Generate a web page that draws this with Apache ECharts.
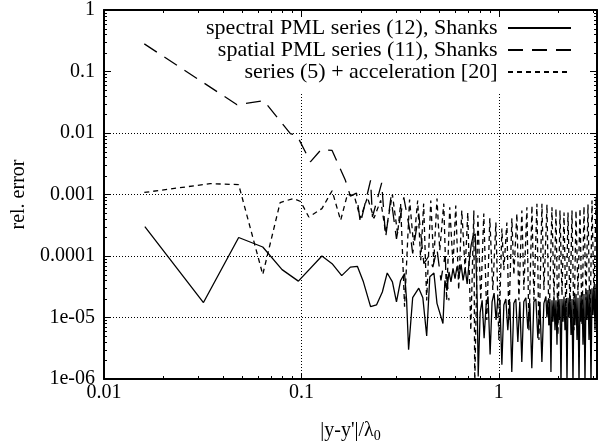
<!DOCTYPE html>
<html>
<head>
<meta charset="utf-8">
<script src="https://cdn.jsdelivr.net/npm/echarts@6/dist/echarts.min.js"></script>
<style>html,body{margin:0;padding:0;background:#fff}#c{width:602px;height:448px}</style>
</head>
<body>
<div id="c"></div>
<script>
const seriesNames = ['spectral PML series (12), Shanks', 'spatial PML series (11), Shanks', 'series (5) + acceleration [20]'];
const xTickLabels = ['0.01', '0.1', '1'];           // exponents -2..0
const yTickLabels = ['1e-06', '1e-05', '0.0001', '0.001', '0.01', '0.1', '1']; // exponents -6..0
const xMin = 0.01, xMax = 3.1416, yMin = 1e-6, yMax = 1;

const spectralData = [[0.0161,3.0e-4],[0.0319,1.75e-5],[0.0481,2.0e-4],[0.0637,1.4e-4],[0.0798,6.0e-5],[0.0965,3.9e-5],[0.127,1.0e-4],[0.143,7.5e-5],[0.160,4.8e-5],[0.177,6.6e-5],[0.192,6.8e-5],[0.206,3.8e-5],[0.224,1.5e-5],[0.240,1.6e-5],[0.257,2.6e-5],[0.272,5.3e-5],[0.289,3.8e-5],[0.303,1.8e-5],[0.318,4.0e-5],[0.333,5.2e-5],[0.341,1.9e-5],[0.349,3.0e-6],[0.366,2.1e-5],[0.393,3.0e-5],[0.412,2.1e-5],[0.431,5.0e-6],[0.447,4.6e-5],[0.469,5.3e-5],[0.486,1.7e-5],[0.497,1.7e-5],[0.521,8.0e-6],[0.533,4.0e-5],[0.546,2.8e-5],[0.559,5.5e-5],[0.572,3.8e-5],[0.586,6.3e-5],[0.600,4.3e-5],[0.614,6.8e-5],[0.629,4.8e-5],[0.644,7.3e-5],[0.659,4.0e-5],[0.675,6.3e-5],[0.691,3.5e-5],[0.707,8.0e-5],[0.724,1.5e-4],[0.741,2.1e-4],[0.759,2.3e-4],[0.777,1.9e-5],[0.786,1.1e-6],[0.804,1.2e-5],[0.823,1.9e-5],[0.842,4.6e-6],[0.862,1.6e-5],[0.882,2.2e-5],[0.903,2.5e-6],[0.924,1.8e-5],[0.946,2.5e-5],[0.968,9.1e-6],[0.988,2.0e-5],[1.012,1.9e-5],[1.036,1.7e-6],[1.060,1.6e-5],[1.085,2.0e-5],[1.110,6.2e-6],[1.137,1.8e-5],[1.163,1.3e-6],[1.191,1.7e-5],[1.219,2.0e-5],[1.248,4.0e-6],[1.277,1.8e-5],[1.307,1.9e-6],[1.338,1.8e-5],[1.370,2.1e-5],[1.402,6.6e-6],[1.436,1.7e-5],[1.469,1.5e-6],[1.504,1.8e-5],[1.540,2.0e-5],[1.576,4.6e-6],[1.614,1.8e-5],[1.652,1.9e-6],[1.691,1.7e-5],[1.731,2.2e-5],[1.751,1.0e-5],[1.772,1.9e-5],[1.794,7.5e-6],[1.815,2.0e-5],[1.836,1.3e-6],[1.858,1.9e-5],[1.880,8.5e-6],[1.902,2.1e-5],[1.925,6.2e-6],[1.947,1.9e-5],[1.970,3.6e-6],[1.993,2.2e-5],[2.017,9.1e-6],[2.040,2.0e-5],[2.064,8e-7],[2.088,2.0e-5],[2.113,8.5e-6],[2.138,2.2e-5],[2.163,6.2e-6],[2.188,2.0e-5],[2.214,9e-7],[2.240,2.1e-5],[2.266,1.0e-5],[2.293,2.3e-5],[2.320,5.2e-6],[2.347,2.0e-5],[2.374,8e-7],[2.402,2.2e-5],[2.430,7.5e-6],[2.459,2.4e-5],[2.488,4.3e-6],[2.517,2.1e-5],[2.547,8e-7],[2.577,2.3e-5],[2.607,8.5e-6],[2.637,2.5e-5],[2.668,3.6e-6],[2.699,2.4e-5],[2.731,8e-7],[2.763,2.6e-5],[2.795,9.1e-6],[2.828,2.8e-5],[2.862,4.3e-6],[2.895,2.8e-5],[2.929,8e-7],[2.964,3.0e-5],[2.999,1.1e-5],[3.034,3.2e-5],[3.070,6.2e-6],[3.106,3.5e-5],[3.142,1.9e-5]];

const spatialData = [[0.0160,0.281],[0.0472,0.0288],[0.0644,0.0335],[0.0879,0.0098],[0.095,0.0091],[0.111,3.4e-3],[0.126,5.4e-3],[0.143,5.2e-3],[0.167,1.7e-3],[0.177,9.4e-4],[0.19,1.05e-3],[0.199,3.4e-4],[0.224,1.7e-3],[0.229,4.3e-4],[0.255,1.55e-3],[0.267,2.0e-4],[0.284,9.0e-4],[0.303,1.9e-4],[0.33,9.0e-4],[0.354,2.6e-4],[0.366,1.1e-4],[0.393,4.9e-4],[0.417,7.5e-5],[0.442,1.0e-4],[0.463,6.6e-5],[0.486,1.3e-4],[0.509,4.0e-5],[0.533,1.0e-4],[0.559,1.9e-5]];

const accelData = [[0.0160,1.08e-3],[0.0345,1.5e-3],[0.0481,1.45e-3],[0.0637,5.0e-5],[0.078,7.4e-4],[0.091,8.6e-4],[0.099,7.7e-4],[0.109,4.3e-4],[0.127,5.9e-4],[0.143,1.15e-3],[0.158,3.8e-4],[0.171,1.0e-3],[0.185,9.6e-4],[0.199,4.1e-4],[0.216,9.0e-4],[0.233,4.1e-4],[0.252,8.0e-4],[0.267,2.4e-4],[0.289,1.0e-3],[0.307,2.3e-4],[0.318,7.1e-4],[0.333,1.5e-5],[0.353,8.3e-4],[0.370,1.5e-4],[0.388,8.0e-4],[0.402,8.5e-5],[0.416,7.1e-4],[0.431,1.9e-5],[0.452,8.0e-4],[0.468,7.9e-5],[0.486,8.6e-4],[0.502,1.24e-4],[0.526,7.1e-4],[0.544,1.9e-5],[0.564,6.2e-4],[0.586,7.1e-5],[0.605,6.6e-4],[0.626,2.8e-5],[0.649,5.5e-4],[0.675,5.9e-5],[0.696,5.1e-4],[0.721,6.2e-6],[0.747,5.5e-4],[0.755,8e-7],[0.783,4.6e-4],[0.810,1.9e-5],[0.839,4.9e-4],[0.869,9.1e-6],[0.900,4.1e-4],[0.932,2.8e-5],[0.966,3.5e-4],[1.0,4.3e-6],[1.036,2.8e-4],[1.060,5.9e-5],[1.098,3.5e-4],[1.124,9.1e-6],[1.164,4.1e-4],[1.191,4.9e-5],[1.234,4.9e-4],[1.263,1.9e-5],[1.308,5.5e-4],[1.339,2.8e-5],[1.387,6.2e-4],[1.420,6.2e-6],[1.471,6.6e-4],[1.505,1.9e-5],[1.559,7.1e-4],[1.596,4.3e-6],[1.653,7.1e-4],[1.692,2.8e-5],[1.753,6.9e-4],[1.794,7.5e-6],[1.858,6.2e-4],[1.902,1.9e-5],[1.947,5.9e-4],[1.993,5.2e-6],[2.040,5.5e-4],[2.088,2.3e-5],[2.138,5.1e-4],[2.188,9.1e-6],[2.240,5.1e-4],[2.293,1.3e-5],[2.347,5.5e-4],[2.402,6.2e-6],[2.459,5.5e-4],[2.517,2.3e-5],[2.577,5.9e-4],[2.637,7.5e-6],[2.699,6.4e-4],[2.763,1.9e-5],[2.828,6.9e-4],[2.895,6.2e-6],[2.964,8.0e-4],[3.034,1.9e-5],[3.106,8.9e-4],[3.142,2.3e-4]];

const FONT = 'Liberation Serif';
function powLabel(labels, offset) {
  return function (v) {
    const e = Math.log10(v), r = Math.round(e);
    if (Math.abs(e - r) > 1e-6) return '';
    return labels[r + offset] || '';
  };
}
const axisLineStyle = { show: true, onZero: false, lineStyle: { color: '#000', width: 2 } };
const tickStyle = { show: true, inside: true, length: 6, lineStyle: { color: '#000', width: 1 } };
const gridLine = { show: true, lineStyle: { color: '#000', width: 1, type: [1, 2] } };
const noSym = { color: 'rgba(0,0,0,0)', borderWidth: 0, opacity: 0 };

const chart = echarts.init(document.getElementById('c'), null, { renderer: 'canvas' });
const option = {
  animation: false,
  backgroundColor: '#fff',
  textStyle: { fontFamily: FONT },
  grid: { left: 104, right: 5, top: 8, bottom: 69, containLabel: false },
  legend: {
    orient: 'vertical', right: 30, top: 17, align: 'right',
    itemWidth: 63, itemHeight: 10, itemGap: 0, padding: 0,
    selectedMode: false,
    data: seriesNames,
    itemStyle: noSym,
    formatter: function (n) { return n + ' '; },
    textStyle: { fontFamily: FONT, fontSize: 22, color: '#000', lineHeight: 22 }
  },
  xAxis: [{
    type: 'log', logBase: 10, min: xMin, max: xMax, position: 'bottom',
    axisLine: axisLineStyle, axisTick: tickStyle, splitLine: gridLine,
    axisLabel: { formatter: powLabel(xTickLabels, 2), fontFamily: FONT, fontSize: 20, color: '#000', margin: 4 },
    name: "|y-y'|/λ{s|0}", nameLocation: 'middle', nameGap: 40,
    nameTextStyle: { fontFamily: FONT, fontSize: 20, color: '#000', rich: { s: { fontFamily: FONT, fontSize: 14, color: '#000', padding: [10, 0, 0, 0] } } }
  }, {
    type: 'log', logBase: 10, min: xMin, max: xMax, position: 'top',
    axisLine: axisLineStyle, axisTick: tickStyle, splitLine: { show: false }, axisLabel: { show: false }
  }],
  yAxis: [{
    type: 'log', logBase: 10, min: yMin, max: yMax, position: 'left',
    axisLine: axisLineStyle, axisTick: tickStyle, splitLine: gridLine,
    axisLabel: { formatter: powLabel(yTickLabels, 6), fontFamily: FONT, fontSize: 20, color: '#000', margin: 9 },
    name: 'rel. error', nameLocation: 'middle', nameGap: 72,
    nameTextStyle: { fontFamily: FONT, fontSize: 20, color: '#000' }
  }, {
    type: 'log', logBase: 10, min: yMin, max: yMax, position: 'right',
    axisLine: axisLineStyle, axisTick: tickStyle, splitLine: { show: false }, axisLabel: { show: false }
  }],
  series: [
    { type: 'line', name: seriesNames[0], data: spectralData, symbol: 'none', clip: true, z: 3, itemStyle: noSym,
      lineStyle: { color: '#000', width: 1.3, type: 'solid' } },
    { type: 'line', name: seriesNames[1], data: spatialData, symbol: 'none', clip: true, z: 3, itemStyle: noSym,
      lineStyle: { color: '#000', width: 1.3, type: [15, 9] } },
    { type: 'line', name: seriesNames[2], data: accelData, symbol: 'none', clip: true, z: 3, itemStyle: noSym,
      lineStyle: { color: '#000', width: 1.3, type: [5, 4] } }
  ]
};
chart.setOption(option);

// minor ticks (2..9 per decade) on all four sides, placed through the axes' own scales
const g = [];
const yB = chart.convertToPixel({ yAxisIndex: 0 }, yMin);
const yT = chart.convertToPixel({ yAxisIndex: 0 }, yMax);
const xL = chart.convertToPixel({ xAxisIndex: 0 }, xMin);
const xR = chart.convertToPixel({ xAxisIndex: 0 }, xMax);
// opaque key area hides grid lines behind the legend
g.push({ type: 'rect', silent: true, z: 1, shape: { x: xL + 8, y: yT + 8, width: (xR - 8) - (xL + 8), height: 74 }, style: { fill: '#fff' } });
const minorLen = 3;
for (let e = -2; e <= 0; e++) {
  for (let k = 2; k <= 9; k++) {
    const v = k * Math.pow(10, e);
    if (v >= xMax) continue;
    const px = Math.round(chart.convertToPixel({ xAxisIndex: 0 }, v)) + 0.5;
    g.push({ type: 'line', silent: true, z: 5, shape: { x1: px, y1: yB, x2: px, y2: yB - minorLen }, style: { stroke: '#000', lineWidth: 1 } });
    g.push({ type: 'line', silent: true, z: 5, shape: { x1: px, y1: yT, x2: px, y2: yT + minorLen }, style: { stroke: '#000', lineWidth: 1 } });
  }
}
for (let e = -6; e <= -1; e++) {
  for (let k = 2; k <= 9; k++) {
    const v = k * Math.pow(10, e);
    const py = Math.round(chart.convertToPixel({ yAxisIndex: 0 }, v)) + 0.5;
    g.push({ type: 'line', silent: true, z: 5, shape: { x1: xL, y1: py, x2: xL + minorLen, y2: py }, style: { stroke: '#000', lineWidth: 1 } });
    g.push({ type: 'line', silent: true, z: 5, shape: { x1: xR, y1: py, x2: xR - minorLen, y2: py }, style: { stroke: '#000', lineWidth: 1 } });
  }
}
chart.setOption({ graphic: g });
</script>
</body>
</html>
